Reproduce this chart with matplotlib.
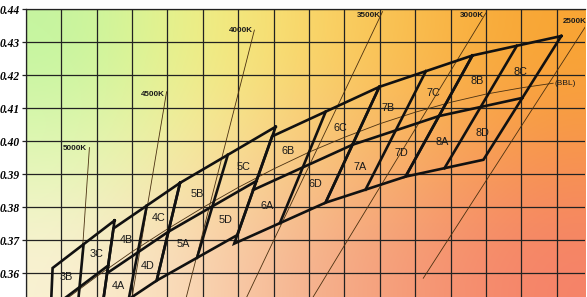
import numpy as np
import matplotlib
matplotlib.use('Agg')
from matplotlib import pyplot as plt

# ANSI quadrangles, vertex order: top-right, top-left, bottom-left, bottom-right
groups = ['3', '4', '5', '6', '7', '8']
quad_x = [
    [0.3551, 0.3376, 0.3366, 0.3515],
    [0.3736, 0.3548, 0.3512, 0.3670],
    [0.4006, 0.3736, 0.3670, 0.3898],
    [0.4299, 0.3996, 0.3889, 0.4147],
    [0.4562, 0.4299, 0.4147, 0.4373],
    [0.4813, 0.4562, 0.4373, 0.4593],
]
quad_y = [
    [0.3760, 0.3616, 0.3369, 0.3487],
    [0.3874, 0.3736, 0.3465, 0.3578],
    [0.4044, 0.3874, 0.3578, 0.3716],
    [0.4165, 0.4015, 0.3690, 0.3814],
    [0.4260, 0.4165, 0.3814, 0.3893],
    [0.4319, 0.4260, 0.3893, 0.3944],
]

# black body line as drawn
bbl_x = [0.330, 0.340, 0.350, 0.360, 0.370, 0.380, 0.390, 0.400, 0.410,
         0.420, 0.430, 0.440, 0.450, 0.460, 0.470, 0.479]
bbl_y = [0.3425, 0.3510, 0.3590, 0.3665, 0.3734, 0.3799, 0.3860, 0.3916, 0.3967,
         0.4012, 0.4053, 0.4088, 0.4118, 0.4143, 0.4162, 0.4176]

# CCT lines (top end, bottom end)
cct_labels = ['5000K', '4500K', '4000K', '3500K', '3000K', '2500K']
cct_x_top = [0.3480, 0.3698, 0.3946, 0.4308, 0.4600, 0.4881]
cct_y_top = [0.3981, 0.4150, 0.4337, 0.4393, 0.4389, 0.4347]
cct_x_bot = [0.3445, 0.3585, 0.3730, 0.3880, 0.4055, 0.4423]
cct_y_bot = [0.3428, 0.3428, 0.3428, 0.3428, 0.3428, 0.3585]

yticks = [0.36, 0.37, 0.38, 0.39, 0.40, 0.41, 0.42, 0.43, 0.44]

# background colours (rows top->bottom, cols left->right)
bg = np.array([
    [(195, 245, 160), (240, 242, 135), (250, 215, 105), (250, 188, 75), (248, 165, 50)],
    [(225, 248, 180), (250, 235, 160), (248, 200, 128), (248, 172, 98), (248, 148, 78)],
    [(250, 242, 212), (250, 213, 180), (245, 178, 143), (245, 152, 118), (245, 130, 105)],
]) / 255.0

fig = plt.figure(figsize=(5.87, 2.97), dpi=100, facecolor='white')
ax = fig.add_axes([25.7 / 587, 0, (585 - 25.7) / 587, (297 - 9.3) / 297])
x0, x1 = 0.33, 0.33 + 559.3 / 3540
y0, y1 = 0.44 - 287.7 / 3300, 0.44

ax.imshow(bg, extent=(x0, x1, y0, y1), aspect='auto', interpolation='bicubic', zorder=0)

ax.set_xticks(np.arange(0.33, 0.4851, 0.01))
ax.set_yticks(yticks)
ax.set_yticklabels(['%.2f' % v for v in yticks], family='Liberation Serif',
                   fontweight='bold', fontstyle='italic', fontsize=8.3)
ax.tick_params(axis='x', length=0, labelbottom=False)
ax.tick_params(axis='y', direction='out', length=2.9, width=0.9, color='#222222', pad=1.4)
ax.grid(True, color='#222222', lw=0.9)
for s in ['right', 'bottom']:
    ax.spines[s].set_visible(False)
ax.spines['left'].set_color('#222222')
ax.spines['top'].set_color('#222222')
ax.spines['left'].set_linewidth(0.9)
ax.spines['top'].set_linewidth(0.9)

# CCT lines
offsets = [(-1.5, -1), (-1.2, -1.8), (-1.3, -0.5), (-1.2, -3.0), (-1.2, -2.2), (1.2, 3.6)]
for i, lab in enumerate(cct_labels):
    ax.plot([cct_x_top[i], cct_x_bot[i]], [cct_y_top[i], cct_y_bot[i]],
            color='#4a3010', lw=0.6, zorder=3)
    ax.annotate(lab, (cct_x_top[i], cct_y_top[i]), xytext=offsets[i],
                textcoords='offset points', ha='right', va='center',
                fontsize=5.8, fontweight='bold', family='Liberation Sans',
                color='#1a1a1a', zorder=5, annotation_clip=False)

# BBL
ax.plot(bbl_x, bbl_y, color='#4a3010', lw=0.6, zorder=3)
ax.annotate('(BBL)', (bbl_x[-1], bbl_y[-1]), xytext=(1, 0), textcoords='offset points',
            ha='left', va='center', fontsize=6, family='Liberation Sans',
            color='#1a1a1a', zorder=5)

# quadrangles and sub bins
for g, qx, qy in zip(groups, quad_x, quad_y):
    tr, tl, bl, br = [np.array([qx[k], qy[k]]) for k in range(4)]
    ax.plot(qx + [qx[0]], qy + [qy[0]], color='#111111', lw=1.9, zorder=4,
            solid_joinstyle='miter')
    ml, mr = (tl + bl) / 2, (tr + br) / 2
    mt, mb = (tl + tr) / 2, (bl + br) / 2
    c = (mt + mb) / 2
    ax.plot([ml[0], mr[0]], [ml[1], mr[1]], color='#111111', lw=1.9, zorder=4)
    ax.plot([mt[0], mb[0]], [mt[1], mb[1]], color='#111111', lw=1.9, zorder=4)
    subs = {'A': [ml, c, mb, bl], 'B': [tl, mt, c, ml], 'C': [mt, tr, mr, c], 'D': [c, mr, br, mb]}
    for k, pts in subs.items():
        p = np.mean(pts, axis=0)
        if y0 < p[1] < y1:
            ax.text(p[0], p[1], g + k, ha='center', va='center', fontsize=7.8,
                    family='Liberation Sans', color='#1a1a1a', zorder=5)

ax.set_xlim(x0, x1)
ax.set_ylim(y0, y1)
fig.savefig('out.png', dpi=100, facecolor='white')
